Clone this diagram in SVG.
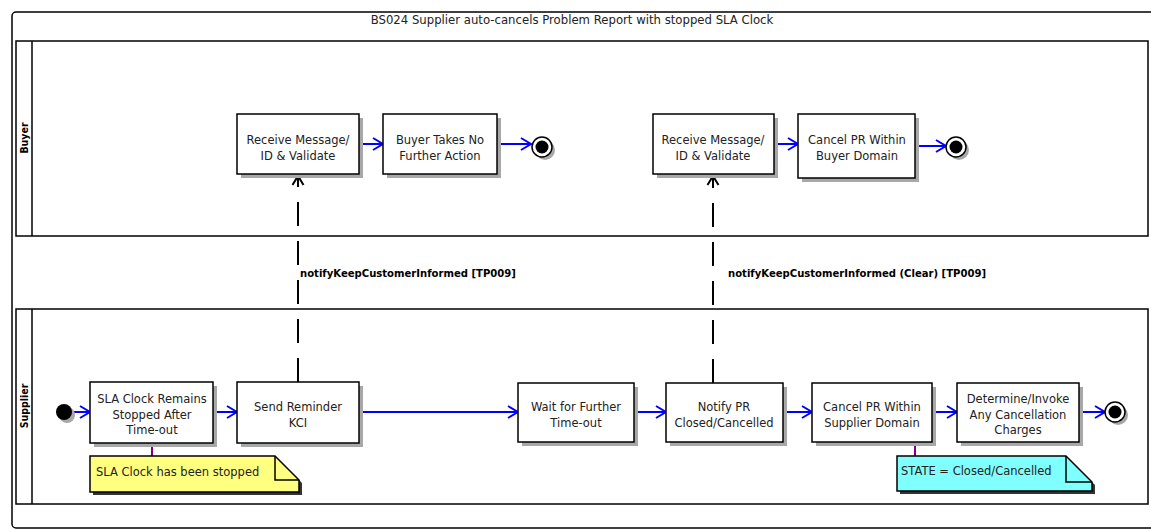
<svg xmlns="http://www.w3.org/2000/svg" width="1151" height="530" viewBox="0 0 1151 530">
  <defs>
    <style>
      .frame { fill: #ffffff; stroke: #000000; stroke-width: 1.5; }
      .lane { fill: #ffffff; stroke: #000000; stroke-width: 1.5; }
      .shadow { fill: #a8a8a8; stroke: none; }
      .act { fill: #ffffff; stroke: #000000; stroke-width: 1.5; }
      .txt { font-family: "DejaVu Sans", "Liberation Sans", sans-serif; font-size: 11.5px; fill: #222222; text-anchor: middle; }
      .title { font-family: "DejaVu Sans", "Liberation Sans", sans-serif; font-size: 11.7px; fill: #222222; text-anchor: middle; }
      .laneName { font-family: "DejaVu Sans Condensed", "DejaVu Sans", sans-serif; font-size: 10.5px; font-weight: bold; fill: #000000; text-anchor: middle; }
      .msgLabel { font-family: "DejaVu Sans Condensed", "DejaVu Sans", sans-serif; font-size: 11.2px; font-weight: bold; fill: #000000; }
      .noteTxt { font-family: "DejaVu Sans", "Liberation Sans", sans-serif; font-size: 11.5px; fill: #222222; }
      .flow { stroke: #0000ff; stroke-width: 2; fill: none; }
      .msg { stroke: #000000; stroke-width: 2; fill: none; stroke-dasharray: 24 15; }
      .anchor { stroke: #800080; stroke-width: 2; fill: none; }
    </style>
    <marker id="openArrow" markerWidth="14" markerHeight="14" refX="11" refY="7" orient="auto" markerUnits="userSpaceOnUse">
      <path d="M1,1 L11,7 L1,13" fill="none" stroke="#0000ff" stroke-width="2"/>
    </marker>
    <marker id="msgArrow" markerWidth="14" markerHeight="14" refX="11" refY="7" orient="auto" markerUnits="userSpaceOnUse">
      <path d="M2,1.5 L11,7 L2,12.5" fill="none" stroke="#000000" stroke-width="2"/>
    </marker>
  </defs>

  <!-- outer frame and title -->
  <g id="frame">
    <rect class="frame" x="12" y="12" width="1150" height="516" rx="4"/>
    <text class="title" x="572" y="24">BS024 Supplier auto-cancels Problem Report with stopped SLA Clock</text>
  </g>

  <!-- swimlanes -->
  <g id="lane-buyer">
    <rect class="lane" x="16" y="41" width="1132" height="195"/>
    <line x1="32" y1="41" x2="32" y2="236" stroke="#000" stroke-width="1.5"/>
    <text class="laneName" transform="translate(28,138) rotate(-90)">Buyer</text>
  </g>
  <g id="lane-supplier">
    <rect class="lane" x="16" y="309" width="1132" height="195"/>
    <line x1="32" y1="309" x2="32" y2="504" stroke="#000" stroke-width="1.5"/>
    <text class="laneName" transform="translate(28,406) rotate(-90)">Supplier</text>
  </g>

  <!-- connectors -->
  <g id="connectors">
    <!-- message flows -->
    <line class="msg" x1="298" y1="382" x2="298" y2="176" marker-end="url(#msgArrow)"/>
    <line class="msg" x1="713" y1="383" x2="713" y2="176" marker-end="url(#msgArrow)"/>
    <!-- buyer control flows -->
    <line class="flow" x1="359" y1="144" x2="383" y2="144" marker-end="url(#openArrow)"/>
    <line class="flow" x1="497" y1="144" x2="531" y2="144" marker-end="url(#openArrow)"/>
    <line class="flow" x1="774" y1="144" x2="798" y2="144" marker-end="url(#openArrow)"/>
    <line class="flow" x1="915" y1="146" x2="946" y2="146" marker-end="url(#openArrow)"/>
    <!-- supplier control flows -->
    <line class="flow" x1="72" y1="412" x2="90" y2="412" marker-end="url(#openArrow)"/>
    <line class="flow" x1="213" y1="412" x2="237" y2="412" marker-end="url(#openArrow)"/>
    <line class="flow" x1="359" y1="412" x2="518" y2="412" marker-end="url(#openArrow)"/>
    <line class="flow" x1="634" y1="412" x2="666" y2="412" marker-end="url(#openArrow)"/>
    <line class="flow" x1="783" y1="412" x2="812" y2="412" marker-end="url(#openArrow)"/>
    <line class="flow" x1="932" y1="412" x2="957" y2="412" marker-end="url(#openArrow)"/>
    <line class="flow" x1="1079" y1="412" x2="1105" y2="412" marker-end="url(#openArrow)"/>
    <!-- note anchors -->
    <line class="anchor" x1="152" y1="443" x2="152" y2="456"/>
    <line class="anchor" x1="915" y1="442" x2="915" y2="456"/>
    <!-- message labels -->
    <text class="msgLabel" x="300" y="277">notifyKeepCustomerInformed [TP009]</text>
    <text class="msgLabel" x="728" y="277">notifyKeepCustomerInformed (Clear) [TP009]</text>
  </g>

  <!-- buyer activities -->
  <g id="buyer-receive-1">
    <rect class="shadow" x="241" y="118" width="122" height="60"/>
    <rect class="act" x="237" y="114" width="122" height="60"/>
    <text class="txt" x="298" y="144">Receive Message/</text>
    <text class="txt" x="298" y="160">ID &amp; Validate</text>
  </g>
  <g id="buyer-no-action">
    <rect class="shadow" x="387" y="118" width="114" height="60"/>
    <rect class="act" x="383" y="114" width="114" height="60"/>
    <text class="txt" x="440" y="144">Buyer Takes No</text>
    <text class="txt" x="440" y="160">Further Action</text>
  </g>
  <g id="buyer-end-1">
    <circle cx="545" cy="150" r="10" fill="#a8a8a8"/>
    <circle cx="542" cy="147" r="10" fill="#ffffff" stroke="#000" stroke-width="1.5"/>
    <circle cx="542" cy="147" r="6.5" fill="#000"/>
  </g>
  <g id="buyer-receive-2">
    <rect class="shadow" x="657" y="118" width="121" height="60"/>
    <rect class="act" x="653" y="114" width="121" height="60"/>
    <text class="txt" x="713" y="144">Receive Message/</text>
    <text class="txt" x="713" y="160">ID &amp; Validate</text>
  </g>
  <g id="buyer-cancel">
    <rect class="shadow" x="802" y="118" width="117" height="64"/>
    <rect class="act" x="798" y="114" width="117" height="64"/>
    <text class="txt" x="857" y="144">Cancel PR Within</text>
    <text class="txt" x="857" y="160">Buyer Domain</text>
  </g>
  <g id="buyer-end-2">
    <circle cx="959" cy="150" r="10" fill="#a8a8a8"/>
    <circle cx="956" cy="147" r="10" fill="#ffffff" stroke="#000" stroke-width="1.5"/>
    <circle cx="956" cy="147" r="6.5" fill="#000"/>
  </g>

  <!-- supplier activities -->
  <g id="supplier-start">
    <circle cx="67" cy="415" r="8" fill="#a8a8a8"/>
    <circle cx="64" cy="412" r="8" fill="#000"/>
  </g>
  <g id="supplier-clock">
    <rect class="shadow" x="94" y="386" width="123" height="61"/>
    <rect class="act" x="90" y="382" width="123" height="61"/>
    <text class="txt" x="152" y="403">SLA Clock Remains</text>
    <text class="txt" x="152" y="419">Stopped After</text>
    <text class="txt" x="152" y="434">Time-out</text>
  </g>
  <g id="supplier-reminder">
    <rect class="shadow" x="241" y="386" width="122" height="61"/>
    <rect class="act" x="237" y="382" width="122" height="61"/>
    <text class="txt" x="298" y="411">Send Reminder</text>
    <text class="txt" x="298" y="427">KCI</text>
  </g>
  <g id="supplier-wait">
    <rect class="shadow" x="522" y="387" width="116" height="59"/>
    <rect class="act" x="518" y="383" width="116" height="59"/>
    <text class="txt" x="576" y="411">Wait for Further</text>
    <text class="txt" x="576" y="427">Time-out</text>
  </g>
  <g id="supplier-notify">
    <rect class="shadow" x="670" y="387" width="117" height="59"/>
    <rect class="act" x="666" y="383" width="117" height="59"/>
    <text class="txt" x="724" y="411">Notify PR</text>
    <text class="txt" x="724" y="427">Closed/Cancelled</text>
  </g>
  <g id="supplier-cancel">
    <rect class="shadow" x="816" y="387" width="120" height="59"/>
    <rect class="act" x="812" y="383" width="120" height="59"/>
    <text class="txt" x="872" y="411">Cancel PR Within</text>
    <text class="txt" x="872" y="427">Supplier Domain</text>
  </g>
  <g id="supplier-charges">
    <rect class="shadow" x="961" y="387" width="122" height="59"/>
    <rect class="act" x="957" y="383" width="122" height="59"/>
    <text class="txt" x="1018" y="403">Determine/Invoke</text>
    <text class="txt" x="1018" y="419">Any Cancellation</text>
    <text class="txt" x="1018" y="434">Charges</text>
  </g>
  <g id="supplier-end">
    <circle cx="1118" cy="415" r="10" fill="#a8a8a8"/>
    <circle cx="1115" cy="412" r="10" fill="#ffffff" stroke="#000" stroke-width="1.5"/>
    <circle cx="1115" cy="412" r="6.5" fill="#000"/>
  </g>

  <!-- notes -->
  <g id="note-clock">
    <path d="M93,459 H278 L302,483 V495 H93 Z" fill="#333333"/>
    <path d="M90,456 H275 L299,480 V492 H90 Z" fill="#ffff80" stroke="#000" stroke-width="1.5"/>
    <path d="M275,456 V480 H299" fill="none" stroke="#000" stroke-width="1.5"/>
    <text class="noteTxt" x="96" y="476">SLA Clock has been stopped</text>
  </g>
  <g id="note-state">
    <path d="M900,459 H1069 L1095,485 V494 H900 Z" fill="#333333"/>
    <path d="M897,456 H1066 L1092,482 V491 H897 Z" fill="#80ffff" stroke="#000" stroke-width="1.5"/>
    <path d="M1066,456 V482 H1092" fill="none" stroke="#000" stroke-width="1.5"/>
    <text class="noteTxt" x="901" y="475">STATE = Closed/Cancelled</text>
  </g>
</svg>
